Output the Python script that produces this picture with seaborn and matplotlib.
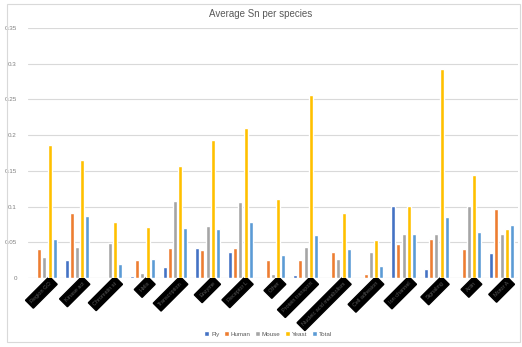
import numpy as np
import pandas as pd
import matplotlib
matplotlib.use("Agg")
import matplotlib.pyplot as plt
import matplotlib.transforms as mtransforms
from matplotlib.patches import Rectangle
import seaborn as sns

categories = ["Region GO", "Kinase act", "Chromatin st", "Helix", "Transcription",
              "Enzyme", "Receptor L", "Other", "Protein transport",
              "Nucleic acid metabolism", "Cell adhesion", "Ion channel",
              "Signaling", "Actin", "Motor A"]
species = ["Fly", "Human", "Mouse", "Yeast", "Total"]

fly   = [0.000, 0.025, 0.000, 0.003, 0.015, 0.042, 0.037, 0.000, 0.004, 0.000, 0.000, 0.101, 0.012, 0.000, 0.035]
human = [0.040, 0.091, 0.000, 0.025, 0.042, 0.039, 0.042, 0.025, 0.025, 0.037, 0.005, 0.047, 0.055, 0.041, 0.096]
mouse = [0.029, 0.043, 0.049, 0.007, 0.108, 0.073, 0.106, 0.006, 0.044, 0.027, 0.036, 0.062, 0.062, 0.101, 0.062]
yeast = [0.186, 0.165, 0.079, 0.071, 0.157, 0.193, 0.210, 0.111, 0.256, 0.091, 0.053, 0.101, 0.292, 0.144, 0.069]
total = [0.055, 0.087, 0.020, 0.027, 0.070, 0.068, 0.078, 0.032, 0.060, 0.041, 0.017, 0.062, 0.086, 0.064, 0.074]

colors = ["#4472C4", "#ED7D31", "#A5A5A5", "#FFC000", "#5B9BD5"]

series = dict(zip(species, [fly, human, mouse, yeast, total]))
df = pd.DataFrame([
    {"category": c, "species": s, "value": series[s][i]}
    for s in species for i, c in enumerate(categories)
])

sns.set_theme(style="white")
plt.rcParams["font.family"] = ["Liberation Sans", "DejaVu Sans"]

fig = plt.figure(figsize=(5.22, 3.47), dpi=100)
ax = fig.add_axes([28 / 522, 1 - 278 / 347, 490 / 522, 250 / 347])

sns.barplot(data=df, x="category", y="value", hue="species", order=categories,
            hue_order=species, palette=colors, width=0.8, gap=0.25,
            saturation=1, ax=ax, errorbar=None)

ax.set_ylim(0, 0.35)
ax.set_yticks(np.arange(0, 0.36, 0.05))
ax.set_yticklabels(["0", "0.05", "0.1", "0.15", "0.2", "0.25", "0.3", "0.35"],
                   fontsize=4.5, color="#7f7f7f")
ax.yaxis.grid(True, color="#d9d9d9", linewidth=0.8)
ax.set_axisbelow(True)
for sp in ax.spines.values():
    sp.set_visible(False)
ax.axhline(0, color="#d9d9d9", linewidth=0.8, zorder=0)
ax.tick_params(axis="y", length=0, pad=8)
ax.set_xlabel("")
ax.set_ylabel("")
ax.set_xlim(-0.5, len(categories) - 0.5)

ax.set_xticks(range(len(categories)))
ax.set_xticklabels(categories, rotation=45, ha="right", va="top",
                   rotation_mode="anchor", fontsize=4, color="#5a5a5a",
                   bbox=dict(facecolor="black", edgecolor="black", pad=2.2))
ax.tick_params(axis="x", length=0, pad=2)
# nudge the rotated category labels a little to the right
shift = mtransforms.ScaledTranslation(5 / 100, 0, fig.dpi_scale_trans)
for lbl in ax.get_xticklabels():
    lbl.set_transform(lbl.get_transform() + shift)

fig.text(0.5, 1 - 14 / 347, "Average Sn per species", ha="center", va="center",
         fontsize=7, color="#595959")

leg = ax.legend(loc="upper center", bbox_to_anchor=(0.49, -0.19), ncol=5,
                frameon=False, fontsize=4.5, handlelength=0.8, handleheight=0.8,
                handletextpad=0.3, columnspacing=0.7)
for t in leg.get_texts():
    t.set_color("#595959")

fig.add_artist(Rectangle((7 / 522, 5 / 347), 513 / 522, 338 / 347,
                         transform=fig.transFigure, fill=False,
                         edgecolor="#d9d9d9", linewidth=0.8))

fig.savefig("out.png", dpi=100)
